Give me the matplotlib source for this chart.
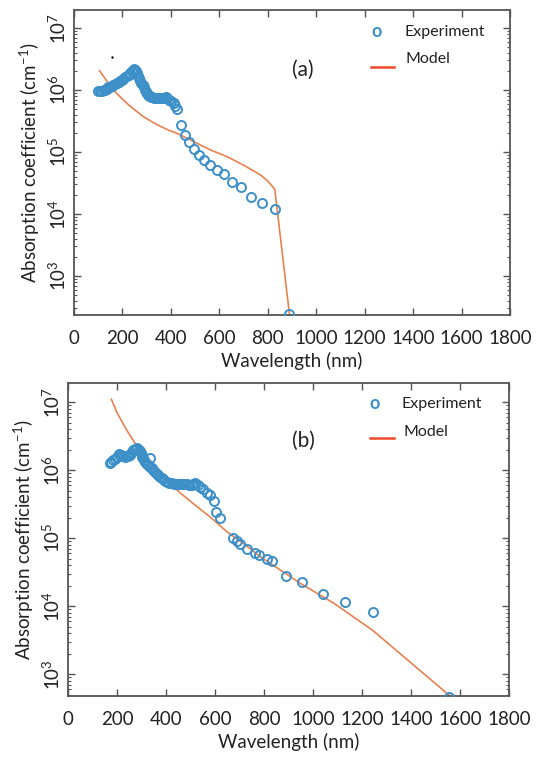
import matplotlib
matplotlib.use("Agg")
import matplotlib.pyplot as plt
from matplotlib.ticker import LogLocator, FixedLocator, NullFormatter

plt.rcParams['font.family'] = ['Lato', 'DejaVu Sans']
plt.rcParams['mathtext.fontset'] = 'custom'
plt.rcParams['mathtext.rm'] = 'Lato'
plt.rcParams['mathtext.it'] = 'Lato:italic'

# ---------------- data ----------------
xticks = [0, 200, 400, 600, 800, 1000, 1200, 1400, 1600, 1800]
yticks = [1e3, 1e4, 1e5, 1e6, 1e7]
ytick_labels = [r'$10^{3}$', r'$10^{4}$', r'$10^{5}$', r'$10^{6}$', r'$10^{7}$']

a_exp_wl = [101, 108, 115, 122, 128, 135, 142, 149, 156, 163, 170, 177, 184, 191,
            198, 204, 211, 218, 225, 232, 239, 246, 252, 257, 262, 266, 270, 274,
            278, 283, 287, 292, 296, 301, 306, 311, 316, 322, 330, 338, 346, 354,
            362, 370, 378, 386, 394, 402, 411, 418, 425, 443, 460, 474, 494, 515,
            537, 563, 591, 621, 654, 691, 731, 776, 831, 887]
a_exp_val = [9.8e5, 9.8e5, 9.8e5, 1.0e6, 1.0e6, 1.05e6, 1.1e6, 1.1e6, 1.15e6, 1.2e6,
             1.25e6, 1.3e6, 1.35e6, 1.4e6, 1.45e6, 1.5e6, 1.6e6, 1.65e6, 1.75e6,
             1.9e6, 2.05e6, 2.15e6, 2.1e6, 2.0e6, 1.85e6, 1.7e6, 1.55e6, 1.4e6,
             1.3e6, 1.2e6, 1.1e6, 1.0e6, 9.3e5, 8.8e5, 8.3e5, 8.0e5, 7.8e5, 7.6e5,
             7.5e5, 7.5e5, 7.4e5, 7.4e5, 7.4e5, 7.5e5, 7.6e5, 7.4e5, 7.0e5, 6.6e5,
             6.2e5, 5.6e5, 5.0e5, 2.7e5, 1.9e5, 1.45e5, 1.1e5, 8.9e4, 7.4e4, 6.1e4,
             5.1e4, 4.4e4, 3.3e4, 2.7e4, 1.9e4, 1.5e4, 1.2e4, 2.4e2]
a_dot_wl = [157]
a_dot_val = [3.4e6]

a_mod_wl = [105, 130, 149, 180, 218, 250, 287, 320, 356, 390, 425, 494, 563, 632,
            701, 770, 800, 829, 890]
a_mod_val = [2.05e6, 1.5e6, 1.16e6, 8.5e5, 6.1e5, 4.8e5, 3.7e5, 3.1e5, 2.6e5,
             2.25e5, 2.0e5, 1.47e5, 1.08e5, 8.4e4, 6.1e4, 4.25e4, 3.4e4, 2.5e4, 2.3e2]

b_exp_wl = [170, 177, 184, 191, 198, 208, 216, 225, 232, 239, 245, 252, 259, 266,
            274, 282, 288, 293, 297, 300, 304, 307, 311, 316, 321, 327, 334, 334,
            341, 348, 355, 362, 369, 375, 382, 389, 396, 403, 413, 423, 433, 444,
            454, 464, 474, 485, 495, 505, 512, 519, 530, 540, 553, 567, 580, 594,
            605, 621, 672, 690, 704, 731, 765, 779, 813, 834, 888, 954, 1039, 1131,
            1244, 1556]
b_exp_val = [1.28e6, 1.33e6, 1.4e6, 1.48e6, 1.54e6, 1.7e6, 1.65e6, 1.6e6, 1.58e6,
             1.6e6, 1.62e6, 1.66e6, 1.8e6, 1.97e6, 2.05e6, 2.08e6, 2.0e6, 1.9e6,
             1.78e6, 1.66e6, 1.57e6, 1.49e6, 1.4e6, 1.32e6, 1.25e6, 1.18e6, 1.12e6,
             1.5e6, 1.06e6, 1.0e6, 9.4e5, 8.9e5, 8.4e5, 8.0e5, 7.6e5, 7.3e5, 7.0e5,
             6.7e5, 6.5e5, 6.4e5, 6.3e5, 6.2e5, 6.2e5, 6.2e5, 6.2e5, 6.2e5, 6.1e5,
             6.0e5, 6.2e5, 6.4e5, 6.0e5, 5.7e5, 5.2e5, 4.6e5, 4.3e5, 3.5e5, 2.4e5,
             1.95e5, 1.0e5, 9.1e4, 8.3e4, 7.0e4, 6.0e4, 5.6e4, 5.0e4, 4.6e4, 2.75e4,
             2.3e4, 1.5e4, 1.15e4, 8.3e3, 4.7e2]

b_mod_wl = [177, 200, 239, 270, 293, 330, 375, 444, 512, 580, 649, 717, 786, 950,
            1086, 1244, 1556]
b_mod_val = [1.1e7, 7.0e6, 3.9e6, 2.6e6, 1.97e6, 1.35e6, 8.9e5, 5.1e5, 3.2e5,
             2.05e5, 1.24e5, 8.3e4, 5.3e4, 2.15e4, 1.1e4, 4.4e3, 4.9e2]

# ---------------- styling ----------------
EXP_C = '#3d8fc8'
MOD_C = '#e8814f'
SPINE_C = '#555555'
TXT_C = '#222222'

fig = plt.figure(figsize=(5.5, 7.59), dpi=100)

def setup(ax, ylim):
    ax.set_yscale('log')
    ax.set_xlim(0, 1800)
    ax.set_ylim(*ylim)
    ax.xaxis.set_major_locator(FixedLocator(xticks))
    ax.set_xticklabels([str(t) for t in xticks])
    ax.yaxis.set_major_locator(FixedLocator(yticks))
    ax.set_yticklabels(ytick_labels)
    ax.yaxis.set_minor_locator(LogLocator(base=10, subs=range(2, 10), numticks=20))
    ax.yaxis.set_minor_formatter(NullFormatter())
    ax.tick_params(which='both', direction='in', top=True, right=True,
                   color=SPINE_C, labelcolor=TXT_C)
    ax.tick_params(which='major', length=5, width=1)
    ax.tick_params(which='minor', length=2.5, width=0.8)
    ax.tick_params(axis='x', labelsize=13.5, pad=11)
    ax.tick_params(axis='y', labelsize=13.5, labelrotation=90, pad=4)
    for lab in ax.get_yticklabels():
        lab.set_va('center')
    for s in ax.spines.values():
        s.set_color(SPINE_C)
        s.set_linewidth(1.3)
    ax.set_xlabel('Wavelength (nm)', fontsize=13.5, color=TXT_C, labelpad=3)
    ax.set_ylabel('Absorption coefficient (cm$^{-1}$)', fontsize=13.5, color=TXT_C,
                  labelpad=4)

def legend(ax, mx, my, tx, ly, lx0, lx1, mty):
    ax.text(mx, my, 'o', transform=ax.transAxes, color=EXP_C, fontsize=13,
            fontweight='bold', ha='center', va='center')
    ax.text(tx, my, 'Experiment', transform=ax.transAxes, color=TXT_C,
            fontsize=11.5, ha='left', va='center')
    ax.plot([lx0, lx1], [ly, ly], transform=ax.transAxes, color='#f0482a', lw=1.8,
            clip_on=False)
    ax.text(tx + 0.004, mty, 'Model', transform=ax.transAxes, color=TXT_C,
            fontsize=11.5, ha='left', va='center')

# Panel (a)
ax1 = fig.add_axes([74 / 550, 1 - 315 / 759, 436 / 550, 305 / 759])
setup(ax1, (10 ** 2.37, 10 ** 7.29))
ax1.plot(a_mod_wl, a_mod_val, color=MOD_C, lw=1.2, zorder=2)
ax1.plot(a_exp_wl, a_exp_val, 'o', mfc='none', mec=EXP_C, mew=1.4, ms=6.5, zorder=3)
ax1.plot(a_dot_wl, a_dot_val, 'o', color='black', ms=0.7, zorder=3)
ax1.text(0.525, 0.803, '(a)', transform=ax1.transAxes, fontsize=15, color=TXT_C,
         ha='center', va='center')
legend(ax1, 0.695, 0.928, 0.757, 0.813, 0.681, 0.734, 0.839)

# Panel (b)
ax2 = fig.add_axes([68 / 550, 1 - 696 / 759, 441 / 550, 313 / 759])
setup(ax2, (10 ** 2.68, 10 ** 7.28))
ax2.plot(b_mod_wl, b_mod_val, color=MOD_C, lw=1.2, zorder=2)
ax2.plot(b_exp_wl, b_exp_val, 'o', mfc='none', mec=EXP_C, mew=1.4, ms=6.5, zorder=3)
ax2.text(0.535, 0.815, '(b)', transform=ax2.transAxes, fontsize=15, color=TXT_C,
         ha='center', va='center')
legend(ax2, 0.696, 0.933, 0.757, 0.824, 0.685, 0.739, 0.843)

fig.savefig('out.png', dpi=100)
